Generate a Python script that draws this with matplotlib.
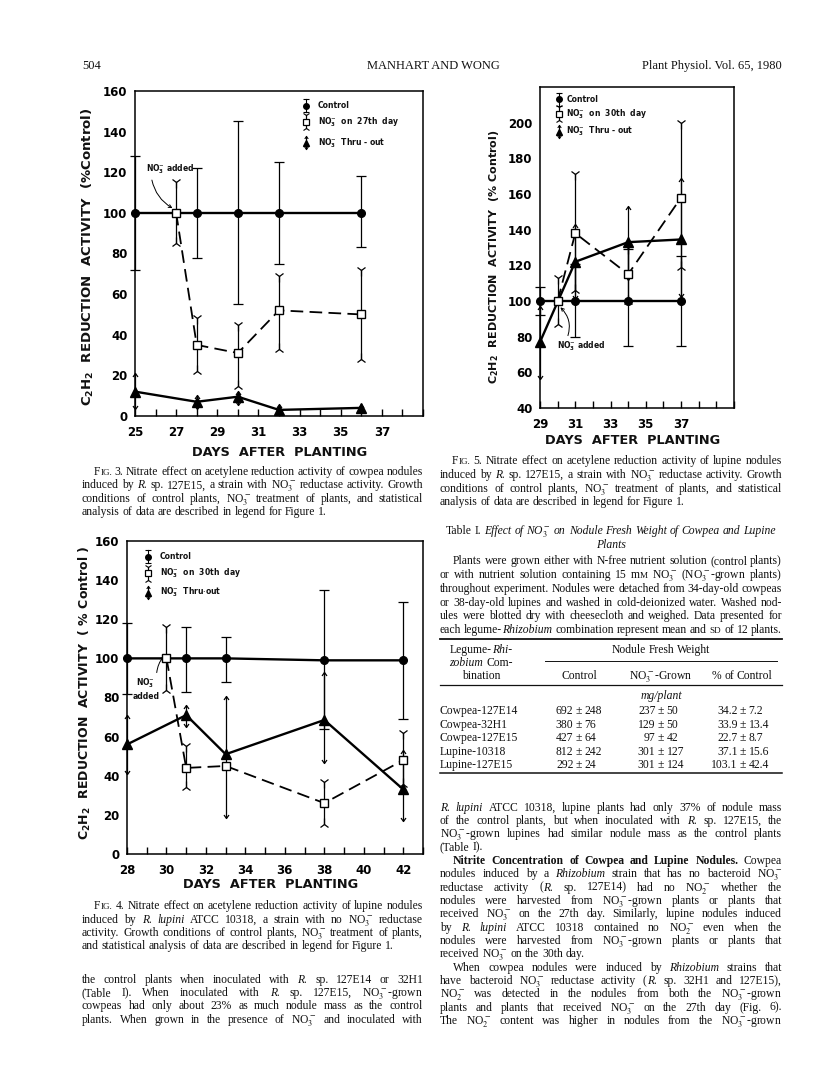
import matplotlib.pyplot as plt
import numpy as np
from matplotlib.lines import Line2D

plt.rcParams['font.family'] = ['Liberation Serif', 'DejaVu Serif']
plt.rcParams['mathtext.fontset'] = 'stix'
plt.rcParams['text.color'] = '#111111'

W, H = 816, 1073
nan = np.nan
BODY = 8.4

# ---- Fig. 3: cowpea, R. sp. 127E15 ----
f3_ctrl_day = [25, 27, 28, 30, 32, 36]
f3_ctrl = [100, 100, 100, 100, 100, 100]
f3_ctrl_hi = [128, nan, 122, 145, 125, 118]
f3_ctrl_lo = [72, nan, 78, 55, 75, 83]
f3_sq_day = [27, 28, 30, 32, 36]
f3_sq = [100, 35, 31, 52, 50]
f3_sq_hi = [115, 48, 45, 69, 72]
f3_sq_lo = [85, 22, 15, 33, 28]
f3_tri_day = [25, 28, 30, 32, 36]
f3_tri = [12, 7, 9.5, 3, 4]
f3_tri_hi = [21, 10.5, 12.5, 6, 6]
f3_tri_lo = [3.5, 3.5, 5.5, 1.3, 2]
f3_xticks = [25, 27, 29, 31, 33, 35, 37]
f3_xticklabels = ['25', '27', '29', '31', '33', '35', '37']
f3_yticks = [0, 20, 40, 60, 80, 100, 120, 140, 160]
f3_yticklabels = ['0', '20', '40', '60', '80', '100', '120', '140', '160']
f3_legend = ['Control', r'NO$_{\mathbf{3}}^{-}$  on  27th  day', r'NO$_{\mathbf{3}}^{-}$  Thru - out']

# ---- Fig. 4: lupine, R. lupini ATCC 10318 ----
f4_ctrl_day = [28, 30, 31, 33, 38, 42]
f4_ctrl = [100, 100, 100, 100, 99, 99]
f4_ctrl_hi = [118, nan, 116, 111, 135, 129]
f4_ctrl_lo = [82, nan, 83, 88, 64, 69]
f4_sq_day = [30, 31, 33, 38, 42]
f4_sq = [100, 44, 45, 26, 48]
f4_sq_hi = [116, 55, nan, 37, 62]
f4_sq_lo = [84, 34, nan, 15.5, 36]
f4_tri_day = [28, 31, 33, 38, 42]
f4_tri = [56, 71, 51, 68.5, 33]
f4_tri_hi = [71, 76, 81, 93, 53]
f4_tri_lo = [41, 65, 18.5, 46.5, 17]
f4_xticks = [28, 30, 32, 34, 36, 38, 40, 42]
f4_xticklabels = ['28', '30', '32', '34', '36', '38', '40', '42']
f4_yticks = [0, 20, 40, 60, 80, 100, 120, 140, 160]
f4_yticklabels = ['0', '20', '40', '60', '80', '100', '120', '140', '160']
f4_legend = ['Control', r'NO$_{\mathbf{3}}^{-}$  on  30th  day', r'NO$_{\mathbf{3}}^{-}$  Thru$\cdot$out']

# ---- Fig. 5: lupine, R. sp. 127E15 ----
f5_ctrl_day = [29, 30, 31, 34, 37]
f5_ctrl = [100, 100, 100, 100, 100]
f5_ctrl_hi = [108, nan, 121, 129, 125]
f5_ctrl_lo = [92, nan, 80, 75, 75]
f5_sq_day = [30, 31, 34, 37]
f5_sq = [100, 138, 115, 158]
f5_sq_hi = [113, 171, 130, 200]
f5_sq_lo = [87, 106, 100, 119]
f5_tri_day = [29, 31, 34, 37]
f5_tri = [77, 122, 133, 134.5]
f5_tri_hi = [97, 143, 153, 169]
f5_tri_lo = [56, 101, 112, 102]
f5_xticks = [29, 31, 33, 35, 37]
f5_xticklabels = ['29', '31', '33', '35', '37']
f5_yticks = [40, 60, 80, 100, 120, 140, 160, 180, 200]
f5_yticklabels = ['40', '60', '80', '100', '120', '140', '160', '180', '200']
f5_legend = ['Control', r'NO$_{\mathbf{3}}^{-}$  on  30th  day', r'NO$_{\mathbf{3}}^{-}$  Thru - out']

# ---- Table I ----
tab_rows = ['Cowpea-127E14', 'Cowpea-32H1', 'Cowpea-127E15', 'Lupine-10318', 'Lupine-127E15']
tab_ctrl = [692, 380, 427, 812, 292]
tab_ctrl_sd = [248, 76, 64, 242, 24]
tab_no3 = [237, 129, 97, 301, 301]
tab_no3_sd = [50, 50, 42, 127, 124]
tab_pct = [34.2, 33.9, 22.7, 37.1, 103.1]
tab_pct_sd = [7.2, 13.4, 8.7, 15.6, 42.4]

fig = plt.figure(figsize=(W / 100, H / 100), dpi=100)
renderer = fig.canvas.get_renderer()


def fx(x):
    return x / W


def fy(y):
    return 1 - y / H


SANS = dict(family='DejaVu Sans', weight='bold', math_fontfamily='dejavusans')
UP = [(-1, -1.4), (0, 0), (1, -1.4)]
DOWN = [(-1, 1.4), (0, 0), (1, 1.4)]


def series(ax, day, mean, hi, lo, kind):
    day, mean, hi, lo = (np.asarray(v, float) for v in (day, mean, hi, lo))
    if kind == 'ctrl':
        ax.plot(day, mean, color='k', lw=1.7, marker='o', ms=5.5, zorder=3, clip_on=False)
        ch, cl, ms = '_', '_', 7
    elif kind == 'sq':
        ax.plot(day, mean, color='k', lw=1.3, ls=(0, (7, 3.5)), marker='s', ms=6,
                mfc='white', mec='k', mew=1, zorder=4)
        ch, cl, ms = '1', '2', 8
    else:
        ax.plot(day, mean, color='k', lw=1.7, marker='^', ms=6.5, zorder=3, clip_on=False)
        ch, cl, ms = UP, DOWN, 5
    ax.vlines(day, lo, hi, color='k', lw=0.9, zorder=2, clip_on=False)
    ax.plot(day, hi, ls='none', marker=ch, ms=ms, mew=0.9, mfc='none', mec='k', clip_on=False)
    ax.plot(day, lo, ls='none', marker=cl, ms=ms, mew=0.9, mfc='none', mec='k', clip_on=False)


def legend(ax, xs, xt, ys, labels, h_px):
    tr = ax.transAxes
    for y, kind, lab in zip(ys, ['ctrl', 'sq', 'tri'], labels):
        d = 6.5 / h_px
        ax.plot([xs, xs], [y - d, y + d], color='k', lw=0.8, transform=tr, clip_on=False)
        if kind == 'ctrl':
            ax.plot([xs, xs], [y - d, y + d], ls='none', marker='_', ms=5, mew=0.8, color='k', transform=tr)
            ax.plot([xs], [y], marker='o', ms=4, color='k', transform=tr)
        elif kind == 'sq':
            ax.plot([xs], [y + d], marker='1', ms=5, mew=0.8, color='k', transform=tr)
            ax.plot([xs], [y - d], marker='2', ms=5, mew=0.8, color='k', transform=tr)
            ax.plot([xs], [y], marker='s', ms=4, mfc='white', mec='k', mew=0.9, transform=tr)
        else:
            ax.plot([xs], [y + d], marker=UP, ms=3.5, mfc='none', mec='k', mew=0.8, transform=tr)
            ax.plot([xs], [y - d], marker=DOWN, ms=3.5, mfc='none', mec='k', mew=0.8, transform=tr)
            ax.plot([xs], [y], marker='^', ms=4.5, color='k', transform=tr)
        ax.text(xt, y, lab, transform=tr, fontsize=5.5, va='center', ha='left', **SANS)


def panel(box, xlim, ylim, minor, xt, xtl, yt, ytl):
    l, t, r, b = box
    ax = fig.add_axes([fx(l), fy(b), (r - l) / W, (b - t) / H])
    ax.set_xlim(xlim)
    ax.set_ylim(ylim)
    ax.set_xticks(xt, labels=xtl, fontsize=8.5, **SANS)
    ax.set_xticks(minor, minor=True)
    ax.set_yticks(yt, labels=ytl, fontsize=8.5, **SANS)
    ax.tick_params(axis='x', which='both', direction='in', length=5, width=1, pad=7)
    ax.tick_params(axis='y', length=0, pad=5.5)
    for s in ax.spines.values():
        s.set_linewidth(1.1)
    return ax


# Fig. 3
ax3 = panel((135, 91, 423, 416), (25, 39), (0, 160), np.arange(25, 40), f3_xticks, f3_xticklabels, f3_yticks, f3_yticklabels)
series(ax3, f3_ctrl_day, f3_ctrl, f3_ctrl_hi, f3_ctrl_lo, 'ctrl')
series(ax3, f3_sq_day, f3_sq, f3_sq_hi, f3_sq_lo, 'sq')
series(ax3, f3_tri_day, f3_tri, f3_tri_hi, f3_tri_lo, 'tri')
legend(ax3, 0.594, 0.635, [0.954, 0.905, 0.84], f3_legend, 325)
ax3.annotate(r'NO$_{\mathbf{3}}^{-}$ added', xy=(26.88, 102), xytext=(25.55, 121.5), fontsize=5.5,
             va='center', ha='left', **SANS,
             arrowprops=dict(arrowstyle='->', lw=0.7, color='k', relpos=(0.1, 0),
                             connectionstyle='arc3,rad=0.25', shrinkA=1, shrinkB=1))

# Fig. 4
ax4 = panel((127, 541, 423, 854), (28, 43), (0, 160), np.arange(28, 44), f4_xticks, f4_xticklabels, f4_yticks, f4_yticklabels)
series(ax4, f4_ctrl_day, f4_ctrl, f4_ctrl_hi, f4_ctrl_lo, 'ctrl')
series(ax4, f4_sq_day, f4_sq, f4_sq_hi, f4_sq_lo, 'sq')
series(ax4, f4_tri_day, f4_tri, f4_tri_hi, f4_tri_lo, 'tri')
legend(ax4, 0.071, 0.111, [0.950, 0.897, 0.835], f4_legend, 313)
ax4.annotate('NO$_{\\mathbf{3}}^{-}$\nadded', xy=(29.9, 101.5), xytext=(28.95, 84.5), fontsize=5.5,
             va='center', ha='center', multialignment='center', **SANS,
             arrowprops=dict(arrowstyle='->', lw=0.7, color='k', relpos=(0.9, 0.95),
                             connectionstyle='arc3,rad=-0.2', shrinkA=1, shrinkB=1))

# Fig. 5
ax5 = panel((540, 87, 734, 408), (29, 40), (40, 220), np.arange(29, 41), f5_xticks, f5_xticklabels, f5_yticks, f5_yticklabels)
series(ax5, f5_ctrl_day, f5_ctrl, f5_ctrl_hi, f5_ctrl_lo, 'ctrl')
series(ax5, f5_sq_day, f5_sq, f5_sq_hi, f5_sq_lo, 'sq')
series(ax5, f5_tri_day, f5_tri, f5_tri_hi, f5_tri_lo, 'tri')
legend(ax5, 0.098, 0.135, [0.962, 0.916, 0.861], f5_legend, 321)
ax5.annotate(r'NO$_{\mathbf{3}}^{-}$ added', xy=(30.1, 97), xytext=(29.95, 74.5), fontsize=5.5,
             va='center', ha='left', **SANS,
             arrowprops=dict(arrowstyle='->', lw=0.7, color='k', relpos=(0.2, 1),
                             connectionstyle='arc3,rad=0.35', shrinkA=1, shrinkB=1))

# axis titles
for x, y, s in [(280, 453, 'DAYS  AFTER  PLANTING'), (271, 885, 'DAYS  AFTER  PLANTING'),
                (633, 440, 'DAYS  AFTER  PLANTING')]:
    fig.text(fx(x), fy(y), s, fontsize=9.3, ha='center', va='center', **SANS)
for x, y, s, fs in [(88, 257, r'C$_{\mathbf{2}}$H$_{\mathbf{2}}$  REDUCTION  ACTIVITY  (%Control)', 9.5),
                    (85, 693, r'C$_{\mathbf{2}}$H$_{\mathbf{2}}$  REDUCTION  ACTIVITY  ( % Control )', 9),
                    (494, 257, r'C$_{\mathbf{2}}$H$_{\mathbf{2}}$  REDUCTION  ACTIVITY  (% Control)', 8)]:
    fig.text(fx(x), fy(y), s, fontsize=fs, rotation=90, ha='center', va='center', **SANS)


# ---- page text ----
def word_parts(word, size):
    parts = []
    for seg in word.split('|'):
        kw = dict(style='normal', weight='normal', fontsize=size)
        while seg[:1] in ('*', '#', '~') and seg:
            c, seg = seg[0], seg[1:]
            if c == '*':
                kw['style'] = 'italic'
            elif c == '#':
                kw['weight'] = 'bold'
            else:
                kw['fontsize'] = size * 0.78
        parts.append(fig.text(0, 0, seg, va='baseline', ha='left', **kw))
    return parts


def width(t):
    return t.get_window_extent(renderer).width


def put_line(x0, x1, yc, line, mode='j', size=BODY):
    y = yc + 3.3
    words = [word_parts(w, size) for w in line.split()]
    widths = [sum(width(t) for t in ws) for ws in words]
    gap = 0.25 * size * 100 / 72
    if mode == 'j' and len(words) > 1:
        gap = (x1 - x0 - sum(widths)) / (len(words) - 1)
    total = sum(widths) + gap * (len(words) - 1)
    x = x0 if mode != 'c' else (x0 + x1) / 2 - total / 2
    for ws, w in zip(words, widths):
        xx = x
        for t in ws:
            t.set_position((fx(xx), fy(y)))
            xx += width(t)
        x += w + gap


def block(lines, x0, x1, y0, step):
    for i, (s, mode, indent) in enumerate(lines):
        put_line(x0 + indent, x1, y0 + i * step, s, mode)


# header
fig.text(fx(82), fy(69), '504', fontsize=9, va='baseline')
fig.text(fx(433), fy(69), 'MANHART AND WONG', fontsize=9, va='baseline', ha='center')
fig.text(fx(782), fy(69), 'Plant Physiol. Vol. 65, 1980', fontsize=9, va='baseline', ha='right')

NO3 = 'NO$_3^-$'
NO2 = 'NO$_2^-$'

block([
    ('F|~IG. 3. Nitrate effect on acetylene reduction activity of cowpea nodules', 'j', 12),
    (f'induced by *R. sp. 127E15, a strain with {NO3} reductase activity. Growth', 'j', 0),
    (f'conditions of control plants, {NO3} treatment of plants, and statistical', 'j', 0),
    ('analysis of data are described in legend for Figure 1.', 'l', 0),
], 82, 423, 471.7, 13.35)

block([
    ('F|~IG. 4. Nitrate effect on acetylene reduction activity of lupine nodules', 'j', 12),
    (f'induced by *R. *lupini ATCC 10318, a strain with no {NO3} reductase', 'j', 0),
    (f'activity. Growth conditions of control plants, {NO3} treatment of plants,', 'j', 0),
    ('and statistical analysis of data are described in legend for Figure 1.', 'l', 0),
], 82, 423, 906, 13.35)

block([
    ('the control plants when inoculated with *R. sp. 127E14 or 32H1', 'j', 0),
    (f'(Table I). When inoculated with *R. sp. 127E15, {NO3}-grown', 'j', 0),
    ('cowpeas had only about 23% as much nodule mass as the control', 'j', 0),
    (f'plants. When grown in the presence of {NO3} and inoculated with', 'j', 0),
], 82, 423, 979.3, 13.33)

block([
    ('F|~IG. 5. Nitrate effect on acetylene reduction activity of lupine nodules', 'j', 12),
    (f'induced by *R. sp. 127E15, a strain with {NO3} reductase activity. Growth', 'j', 0),
    (f'conditions of control plants, {NO3} treatment of plants, and statistical', 'j', 0),
    ('analysis of data are described in legend for Figure 1.', 'l', 0),
], 440, 782, 460.7, 13.8)

put_line(440, 782, 530.7, f'Table I. *Effect *of *{NO3} *on *Nodule *Fresh *Weight *of *Cowpea *and *Lupine', 'c')
put_line(440, 782, 545, '*Plants', 'c')

block([
    ('Plants were grown either with N-free nutrient solution (control plants)', 'j', 13),
    (f'or with nutrient solution containing 15 m|~M {NO3} ({NO3}-grown plants)', 'j', 0),
    ('throughout experiment. Nodules were detached from 34-day-old cowpeas', 'j', 0),
    ('or 38-day-old lupines and washed in cold-deionized water. Washed nod-', 'j', 0),
    ('ules were blotted dry with cheesecloth and weighed. Data presented for', 'j', 0),
    ('each legume-|*Rhizobium combination represent mean and ~SD of 12 plants.', 'j', 0),
], 440, 782, 560.7, 13.85)

# table
for y0, xa, xb, lw in [(639, 440, 782, 1.3), (660.7, 545, 777, 0.7), (685, 440, 782, 0.9), (773.3, 440, 782, 1.1)]:
    fig.add_artist(Line2D([fx(xa), fx(xb)], [fy(y0), fy(y0)], lw=lw, color='#111111'))
put_line(420, 542, 649.3, 'Legume-|*Rhi-', 'c')
put_line(420, 542, 662.7, '*zobium Com-', 'c')
put_line(420, 542, 675.7, 'bination', 'c')
put_line(545, 777, 649.3, 'Nodule Fresh Weight', 'c')
put_line(529, 629, 675.7, 'Control', 'c')
put_line(611, 711, 675.7, f'{NO3}-Grown', 'c')
put_line(692, 792, 675.7, '% of Control', 'c')
put_line(611, 711, 696, '*mg/plant', 'c')
for i, name in enumerate(tab_rows):
    yb = fy(711 + 13.5 * i + 3.3)
    fig.text(fx(440), yb, name, fontsize=BODY, va='baseline')
    for xpm, m, sd in [(579, tab_ctrl[i], tab_ctrl_sd[i]), (661, tab_no3[i], tab_no3_sd[i]),
                       (743, tab_pct[i], tab_pct_sd[i])]:
        fig.text(fx(xpm - 5.5), yb, str(m), fontsize=BODY, va='baseline', ha='right')
        fig.text(fx(xpm), yb, '±', fontsize=BODY, va='baseline', ha='center')
        fig.text(fx(xpm + 5.5), yb, str(sd), fontsize=BODY, va='baseline', ha='left')

block([
    ('*R. *lupini ATCC 10318, lupine plants had only 37% of nodule mass', 'j', 0),
    ('of the control plants, but when inoculated with *R. sp. 127E15, the', 'j', 0),
    (f'{NO3}-grown lupines had similar nodule mass as the control plants', 'j', 0),
    ('(Table I).', 'l', 0),
    ('#Nitrite #Concentration #of #Cowpea #and #Lupine #Nodules. Cowpea', 'j', 13),
    (f'nodules induced by a *Rhizobium strain that has no bacteroid {NO3}', 'j', 0),
    (f'reductase activity (|*R. sp. 127E14) had no {NO2} whether the', 'j', 0),
    (f'nodules were harvested from {NO3}-grown plants or plants that', 'j', 0),
    (f'received {NO3} on the 27th day. Similarly, lupine nodules induced', 'j', 0),
    (f'by *R. *lupini ATCC 10318 contained no {NO2} even when the', 'j', 0),
    (f'nodules were harvested from {NO3}-grown plants or plants that', 'j', 0),
    (f'received {NO3} on the 30th day.', 'l', 0),
    ('When cowpea nodules were induced by *Rhizobium strains that', 'j', 13),
    (f'have bacteroid {NO3} reductase activity (|*R. sp. 32H1 and 127E15),', 'j', 0),
    (f'{NO2} was detected in the nodules from both the {NO3}-grown', 'j', 0),
    (f'plants and plants that received {NO3} on the 27th day (Fig. 6).', 'j', 0),
    (f'The {NO2} content was higher in nodules from the {NO3}-grown', 'j', 0),
], 440, 782, 807.3, 13.33)

fig.savefig('out.png', dpi=100, facecolor='white')
